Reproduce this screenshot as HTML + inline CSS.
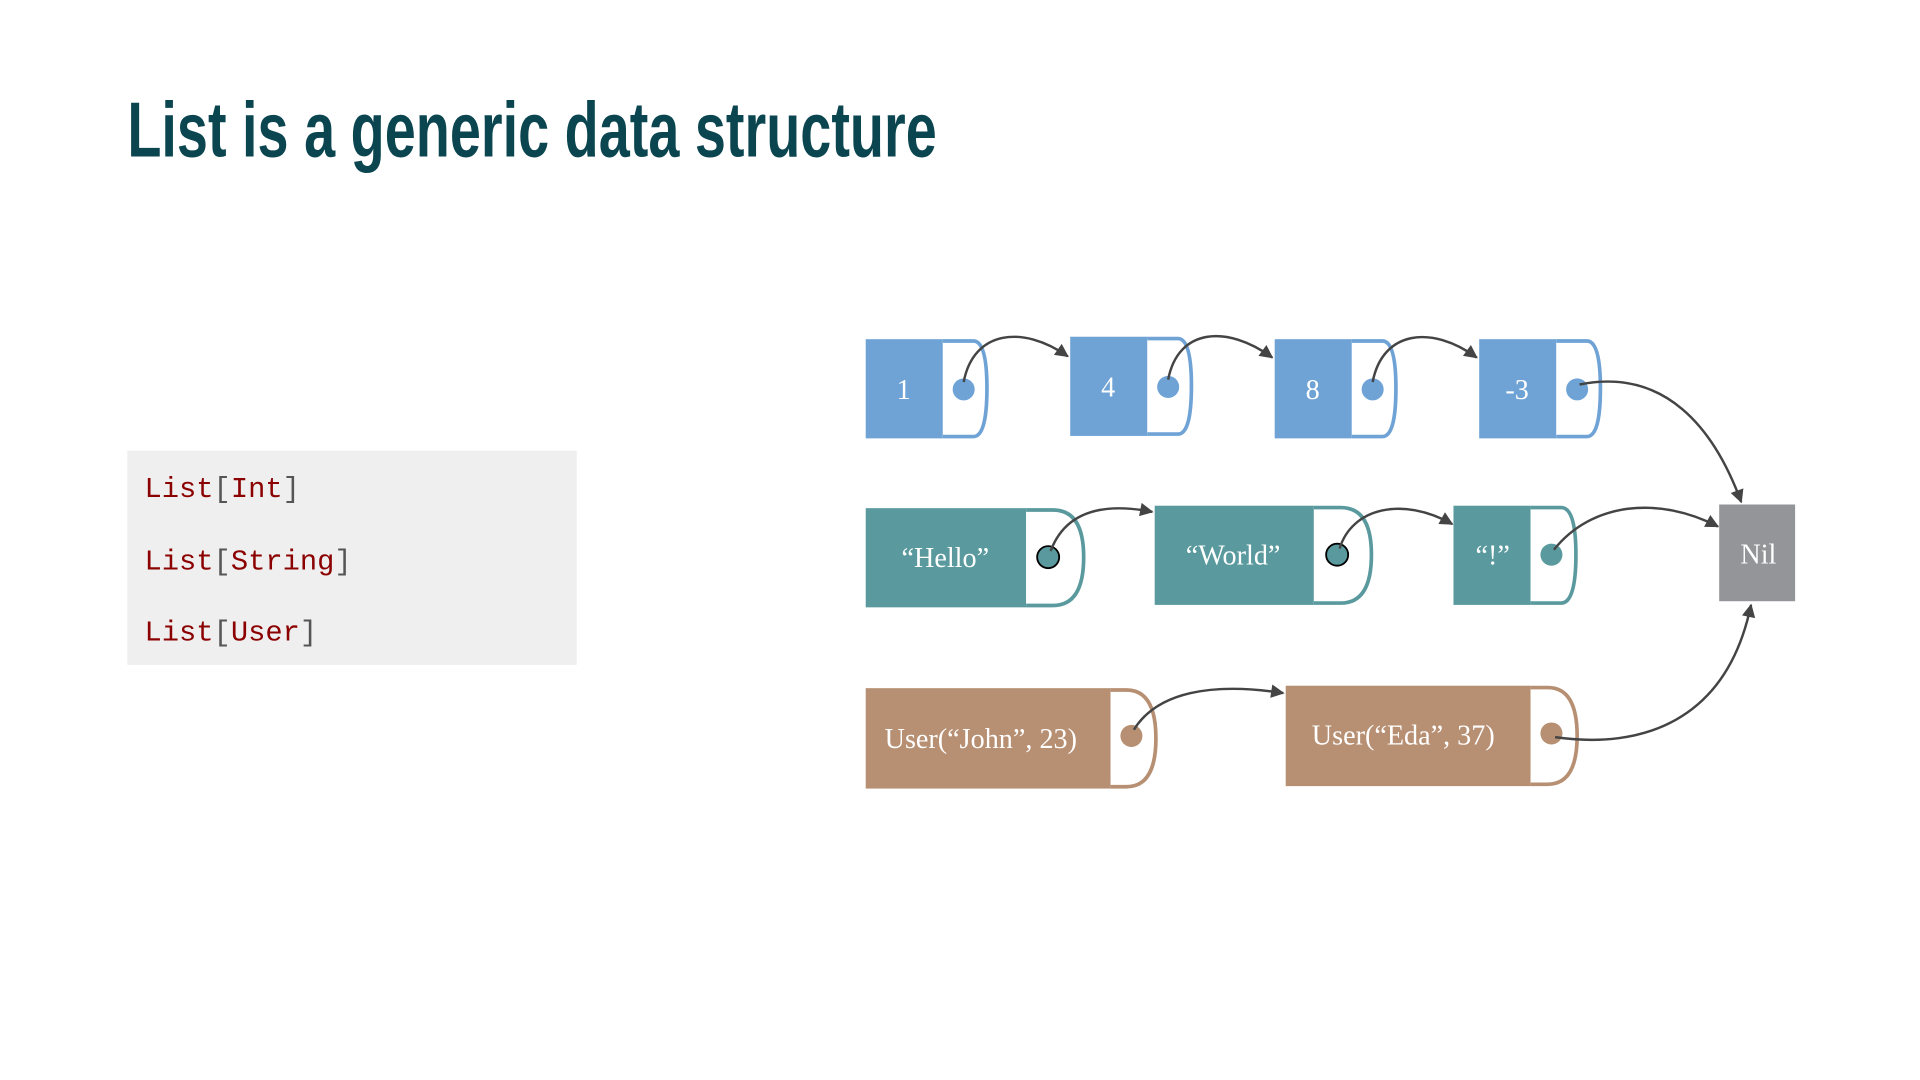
<!DOCTYPE html>
<html><head><meta charset="utf-8"><style>
html,body{margin:0;padding:0;background:#fff;width:1920px;height:1080px;overflow:hidden}
svg{display:block}
</style></head><body>
<svg width="1920" height="1080" viewBox="0 0 1568 882" xmlns="http://www.w3.org/2000/svg">
<defs>
<marker id="a" viewBox="0 0 10 10" refX="9" refY="5" markerWidth="13" markerHeight="11" orient="auto" markerUnits="userSpaceOnUse"><path d="M0,0 L10,5 L0,10 z" fill="#444"/></marker>
</defs>
<text x="104" y="128" font-family="'Liberation Sans Narrow','Liberation Sans',sans-serif" font-size="64" font-weight="bold" fill="#0b4650" textLength="661" lengthAdjust="spacingAndGlyphs">List is a generic data structure</text>
<rect x="104" y="368" width="367" height="175" fill="#efefef"/>
<g font-family="'Liberation Mono',monospace" font-size="23.5">
<text x="118" y="406"><tspan fill="#8b0000">List</tspan><tspan fill="#555">[</tspan><tspan fill="#8b0000">Int</tspan><tspan fill="#555">]</tspan></text>
<text x="118" y="465"><tspan fill="#8b0000">List</tspan><tspan fill="#555">[</tspan><tspan fill="#8b0000">String</tspan><tspan fill="#555">]</tspan></text>
<text x="118" y="523"><tspan fill="#8b0000">List</tspan><tspan fill="#555">[</tspan><tspan fill="#8b0000">User</tspan><tspan fill="#555">]</tspan></text>
</g>
<g font-family="'Liberation Serif',serif" font-size="23" fill="#fff" text-anchor="middle">
<g fill="#6fa3d6" stroke="#6fa3d6">
<rect x="707" y="277" width="63" height="81" stroke="none"/>
<path d="M770,278.5 H795 Q806,278.5 806,317 Q806,356.5 795,356.5 H770" fill="#fff" stroke-width="3"/>
<circle cx="787" cy="318" r="9" stroke="none"/>
<rect x="874" y="275" width="63" height="81" stroke="none"/>
<path d="M937,276.5 H962 Q973,276.5 973,315 Q973,354.5 962,354.5 H937" fill="#fff" stroke-width="3"/>
<circle cx="954" cy="316" r="9" stroke="none"/>
<rect x="1041" y="277" width="63" height="81" stroke="none"/>
<path d="M1104,278.5 H1129 Q1140,278.5 1140,317 Q1140,356.5 1129,356.5 H1104" fill="#fff" stroke-width="3"/>
<circle cx="1121" cy="318" r="9" stroke="none"/>
<rect x="1208" y="277" width="63" height="81" stroke="none"/>
<path d="M1271,278.5 H1296 Q1307,278.5 1307,317 Q1307,356.5 1296,356.5 H1271" fill="#fff" stroke-width="3"/>
<circle cx="1288" cy="318" r="9" stroke="none"/>
</g>
<text x="738" y="326">1</text><text x="905" y="324">4</text><text x="1072" y="326">8</text><text x="1239" y="326">-3</text>
<g fill="#5a9a9e" stroke="#5a9a9e">
<rect x="707" y="415" width="131" height="81" stroke="none"/>
<path d="M838,416.5 H860 Q885,416.5 885,455 Q885,494.5 860,494.5 H838" fill="#fff" stroke-width="3"/>
<rect x="943" y="413" width="130" height="81" stroke="none"/>
<path d="M1073,414.5 H1095 Q1120,414.5 1120,453 Q1120,492.5 1095,492.5 H1073" fill="#fff" stroke-width="3"/>
<rect x="1187" y="413" width="63" height="81" stroke="none"/>
<path d="M1250,414.5 H1275 Q1287,414.5 1287,453 Q1287,492.5 1275,492.5 H1250" fill="#fff" stroke-width="3"/>
<circle cx="1267" cy="453" r="9" stroke="none"/>
</g>
<circle cx="856" cy="455" r="9" fill="#5a9a9e" stroke="#000" stroke-width="1.5"/>
<circle cx="1092" cy="453" r="9" fill="#5a9a9e" stroke="#000" stroke-width="1.5"/>
<text x="772" y="463">“Hello”</text><text x="1007" y="461">“World”</text><text x="1219" y="461">“!”</text>
<rect x="1404" y="412" width="62" height="79" fill="#939598"/>
<text x="1436" y="460">Nil</text>
<g fill="#b78f72" stroke="#b78f72">
<rect x="707" y="562" width="200" height="82" stroke="none"/>
<path d="M907,563.5 H920 Q944,563.5 944,603 Q944,642.5 920,642.5 H907" fill="#fff" stroke-width="3"/>
<circle cx="924" cy="601" r="9" stroke="none"/>
<rect x="1050" y="560" width="200" height="82" stroke="none"/>
<path d="M1250,561.5 H1264 Q1288,561.5 1288,601 Q1288,640.5 1264,640.5 H1250" fill="#fff" stroke-width="3"/>
<circle cx="1267" cy="599" r="9" stroke="none"/>
</g>
<text x="801" y="611">User(“John”, 23)</text><text x="1146" y="608">User(“Eda”, 37)</text>
</g>
<g fill="none" stroke="#444" stroke-width="2" marker-end="url(#a)">
<path d="M787,312 C795,270 835,265 872,291"/>
<path d="M954,310 C962,268 1002,265 1039,292"/>
<path d="M1121,312 C1129,270 1169,265 1206,292"/>
<path d="M1290,314 C1360,300 1400,350 1422,410"/>
<path d="M858,450 C870,418 900,410 941,418"/>
<path d="M1094,448 C1104,415 1145,405 1186,428"/>
<path d="M1269,449 C1300,410 1355,405 1403,430"/>
<path d="M926,596 C945,565 990,557 1048,566"/>
<path d="M1270,602 C1340,612 1410,590 1430,494"/>
</g>
</svg>
</body></html>
